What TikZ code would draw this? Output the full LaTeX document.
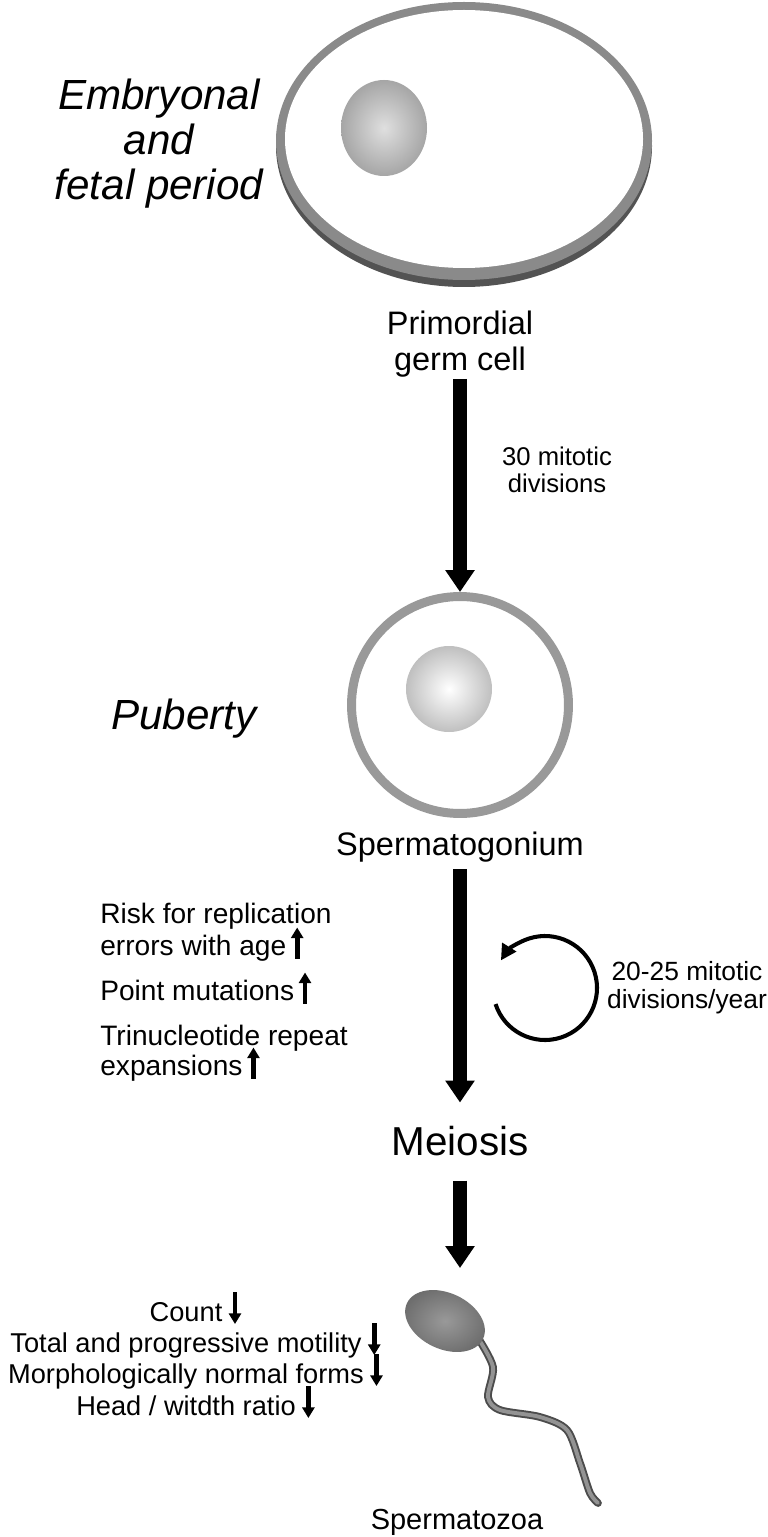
\documentclass[tikz,border=0pt]{standalone}
\usepackage{fontspec}
\setmainfont{Liberation Sans}
\usepackage{tikz}
\usetikzlibrary{arrows.meta}
\usepackage{xcolor}

\tikzset{
  bigarrow/.style={line width=8.3pt, -{Triangle[width=16pt,length=12.5pt]}},
  smallarr/.style={line width=2.7pt, -{Triangle[width=6.8pt,length=6pt]}},
  looparrow/.style={line width=2.3pt, -{Triangle[width=9pt,length=9pt]}},
  period/.style={font=\fontsize{24}{25.6}\selectfont\itshape, align=center, inner sep=0pt},
  cellname/.style={font=\fontsize{18.5}{20}\selectfont, align=center, inner sep=0pt},
  agenote/.style={font=\fontsize{16}{17}\selectfont, inner sep=0pt},
  spermnote/.style={font=\fontsize{15.5}{17}\selectfont, inner sep=0pt},
}

\begin{document}
\begin{tikzpicture}[x=0.02cm, y=-0.02cm]
            \fill[white] (0,0) rectangle (767,1537);
            \useasboundingbox (0,0) rectangle (767,1537);

            % primordial germ cell
            \fill[gray!65!black] (464,146) ellipse [x radius=188, y radius=141];
            \fill[gray!92] (464,141) ellipse [x radius=188, y radius=139];
            \fill[white] (464,139) ellipse [x radius=179, y radius=129];
            \shade[inner color=gray!25, outer color=gray!70] (384,128) ellipse [x radius=43, y radius=48];

            \node[period, anchor=north] (emb) at (159,79) {Embryonal\\and\\fetal period};
            \node[cellname, anchor=north] (pgc) at (460,311) {Primordial\\germ cell};

            % spermatogonium
            \node[circle, draw=gray!80, line width=5.1pt, minimum size=4.34cm, inner sep=0pt] (sgon) at (460,705) {};
            \shade[inner color=white, outer color=gray!50] (449,689) circle [radius=43];

            \draw[bigarrow, shorten <=1pt] (pgc.south) -- (sgon.north);
            \node[font=\fontsize{14.6}{15.4}\selectfont, align=center, anchor=north, inner sep=0pt] (mit30) at (557,447) {30 mitotic\\divisions};

            \node[period, anchor=base] (pub) at (184,729) {Puberty};
            \node[cellname, anchor=base] (sgm) at (460,855) {Spermatogonium};
            \node[font=\fontsize{23}{24}\selectfont, inner sep=0pt, anchor=base] (mei) at (460,1155) {Meiosis};

            \draw[bigarrow, shorten <=4pt, shorten >=13pt] (sgm.south) -- (mei.north);
            \draw[looparrow] (545,988) ++(162:52) arc[start angle=162, end angle=-148, radius=52];
            \node[font=\fontsize{15}{16}\selectfont, align=center, anchor=north, inner sep=0pt] (mit2025) at (687,961) {20-25 mitotic\\divisions/year};

            \node[agenote, anchor=base west] (risk1) at (100,923) {Risk for replication};
            \node[agenote, anchor=base west] (risk2) at (100,955) {errors with age};
            \node[agenote, anchor=base west] (point) at (100,1000) {Point mutations};
            \node[agenote, anchor=base west] (trin1) at (100,1045) {Trinucleotide repeat};
            \node[agenote, anchor=base west] (trin2) at (100,1075) {expansions};

            \draw[smallarr] ([xshift=6pt,yshift=-2pt]risk2.base east) -- ++(0,-31);
            \draw[smallarr] ([xshift=6pt,yshift=-2pt]point.base east) -- ++(0,-31);
            \draw[smallarr] ([xshift=6pt,yshift=-2pt]trin2.base east) -- ++(0,-31);

            % spermatozoon
            \coordinate (headtop) at (460,1268);
            \draw[bigarrow, shorten <=14.2pt] (mei.south) -- (headtop);

            \draw[gray!60!black, line width=4.4pt, line cap=round] plot[smooth] coordinates {(478,1338) (493,1367) (488,1397) (500,1410) (540,1417) (567,1430) (580,1463) (590,1493) (598,1503)};
            \draw[gray!85, line width=2.2pt, line cap=round] plot[smooth] coordinates {(478,1338) (493,1367) (488,1397) (500,1410) (540,1417) (567,1430) (580,1463) (590,1493) (598,1503)};
            \shade[inner color=gray!80, outer color=gray!85!black, rotate around={-25:(445,1321)}] (445,1321) ellipse [x radius=42, y radius=28];

            \node[spermnote, anchor=base] (cnt) at (186,1321) {Count};
            \node[spermnote, anchor=base] (mot) at (186,1352) {Total and progressive motility};
            \node[spermnote, anchor=base] (morph) at (186,1383) {Morphologically normal forms};
            \node[spermnote, anchor=base] (ratio) at (186,1415) {Head / witdth ratio};

            \draw[smallarr] ([xshift=7pt,yshift=16.5pt]cnt.base east) -- ++(0,32);
            \draw[smallarr] ([xshift=7pt,yshift=16.5pt]mot.base east) -- ++(0,32);
            \draw[smallarr] ([xshift=7pt,yshift=16.5pt]morph.base east) -- ++(0,32);
            \draw[smallarr] ([xshift=7pt,yshift=16.5pt]ratio.base east) -- ++(0,32);

            \node[cellname, font=\fontsize{16.5}{18}\selectfont, anchor=base] (spz) at (457,1529) {Spermatozoa};
        \end{tikzpicture}
\end{document}
